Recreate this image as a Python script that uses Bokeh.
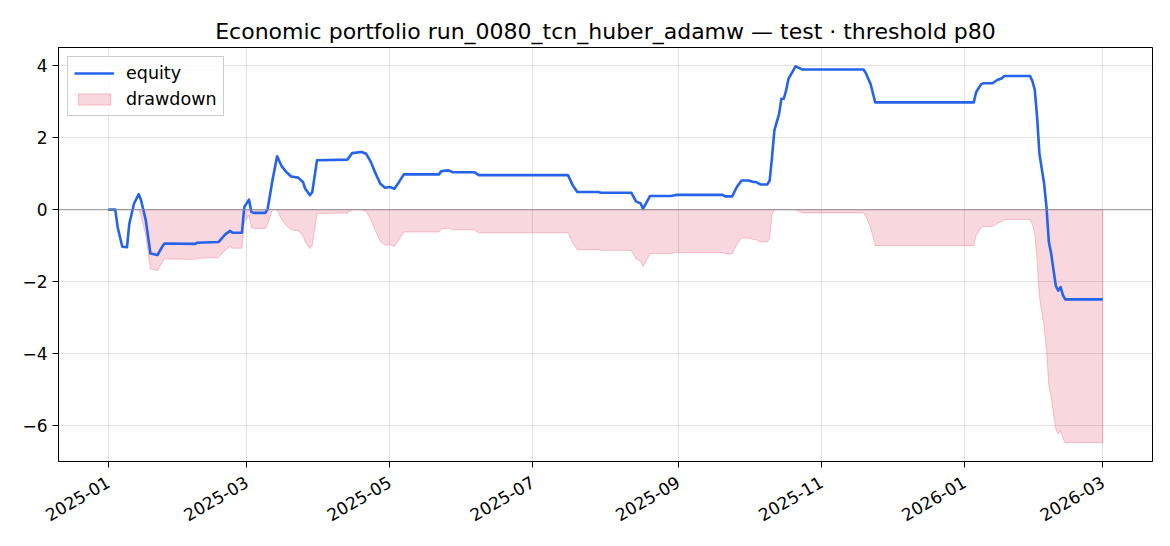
import math
import numpy as np
import pandas as pd
from bokeh.plotting import figure
from bokeh.models import (Range1d, FixedTicker, DatetimeTickFormatter, CustomJSTickFormatter,
                          Span, Legend, LegendItem)
from bokeh.embed import file_html
from bokeh.resources import INLINE

TITLE = "Economic portfolio run_0080_tcn_huber_adamw — test · threshold p80"

dates = [
    "2025-01-01", "2025-01-04", "2025-01-05", "2025-01-07", "2025-01-09", "2025-01-10",
    "2025-01-12", "2025-01-14", "2025-01-15", "2025-01-17", "2025-01-19", "2025-01-22",
    "2025-01-24", "2025-01-25", "2025-02-07", "2025-02-08", "2025-02-17", "2025-02-20",
    "2025-02-22", "2025-02-23", "2025-02-27", "2025-02-28", "2025-03-02", "2025-03-03",
    "2025-03-04", "2025-03-09", "2025-03-10", "2025-03-12", "2025-03-14", "2025-03-16",
    "2025-03-18", "2025-03-20", "2025-03-23", "2025-03-25", "2025-03-26", "2025-03-28",
    "2025-03-29", "2025-03-31", "2025-04-13", "2025-04-15", "2025-04-19", "2025-04-21",
    "2025-04-23", "2025-04-25", "2025-04-27", "2025-04-29", "2025-05-01", "2025-05-03",
    "2025-05-05", "2025-05-07", "2025-05-22", "2025-05-23", "2025-05-26", "2025-05-28",
    "2025-06-06", "2025-06-08", "2025-07-16", "2025-07-18", "2025-07-20", "2025-07-29",
    "2025-07-30", "2025-08-12", "2025-08-14", "2025-08-16", "2025-08-17", "2025-08-20",
    "2025-08-29", "2025-08-31", "2025-09-20", "2025-09-21", "2025-09-24", "2025-09-26",
    "2025-09-28", "2025-10-01", "2025-10-03", "2025-10-04", "2025-10-06", "2025-10-09",
    "2025-10-10", "2025-10-11", "2025-10-12", "2025-10-14", "2025-10-15", "2025-10-16",
    "2025-10-17", "2025-10-18", "2025-10-20", "2025-10-21", "2025-10-22", "2025-10-24",
    "2025-11-19", "2025-11-20", "2025-11-22", "2025-11-24", "2026-01-05", "2026-01-06",
    "2026-01-08", "2026-01-09", "2026-01-13", "2026-01-15", "2026-01-17", "2026-01-18",
    "2026-01-29", "2026-01-30", "2026-01-31", "2026-02-01", "2026-02-02", "2026-02-04",
    "2026-02-05", "2026-02-06", "2026-02-07", "2026-02-08", "2026-02-09", "2026-02-10",
    "2026-02-11", "2026-02-12", "2026-02-13", "2026-03-01",
]

equity = [
    0.00, 0.00, -0.48, -1.03, -1.04, -0.39,
    0.17, 0.43, 0.26, -0.29, -1.22, -1.26,
    -1.03, -0.94, -0.95, -0.92, -0.90, -0.68,
    -0.59, -0.64, -0.64, 0.07, 0.28, -0.06,
    -0.09, -0.09, 0.03, 0.81, 1.48, 1.20,
    1.04, 0.92, 0.89, 0.77, 0.58, 0.40,
    0.49, 1.37, 1.39, 1.57, 1.60, 1.55,
    1.32, 1.00, 0.72, 0.61, 0.63, 0.58,
    0.77, 0.98, 0.98, 1.07, 1.09, 1.04,
    1.04, 0.96, 0.96, 0.68, 0.49, 0.49,
    0.47, 0.47, 0.23, 0.17, 0.02, 0.38,
    0.38, 0.41, 0.41, 0.37, 0.37, 0.63,
    0.81, 0.81, 0.77, 0.77, 0.70, 0.70,
    0.81, 1.46, 2.20, 2.66, 3.08, 3.08,
    3.31, 3.63, 3.86, 3.98, 3.95, 3.89,
    3.89, 3.79, 3.49, 2.98, 2.98, 3.26,
    3.47, 3.51, 3.51, 3.60, 3.65, 3.71,
    3.71, 3.57, 3.33, 2.57, 1.55, 0.72,
    0.07, -0.89, -1.22, -1.68, -2.12, -2.25,
    -2.15, -2.37, -2.49, -2.49,
]

drawdown = [
    0.00, 0.00, 0.00, 0.00, 0.00, 0.00,
    0.00, 0.00, -0.17, -0.72, -1.65, -1.69,
    -1.46, -1.37, -1.38, -1.35, -1.33, -1.11,
    -1.02, -1.07, -1.07, -0.36, -0.15, -0.49,
    -0.52, -0.52, -0.40, 0.00, 0.00, -0.28,
    -0.44, -0.56, -0.59, -0.71, -0.90, -1.08,
    -0.99, -0.11, -0.09, 0.00, 0.00, -0.05,
    -0.28, -0.60, -0.88, -0.99, -0.97, -1.02,
    -0.83, -0.62, -0.62, -0.53, -0.51, -0.56,
    -0.56, -0.64, -0.64, -0.92, -1.11, -1.11,
    -1.13, -1.13, -1.37, -1.43, -1.58, -1.22,
    -1.22, -1.19, -1.19, -1.23, -1.23, -0.97,
    -0.79, -0.79, -0.83, -0.83, -0.90, -0.90,
    -0.79, -0.14, 0.00, 0.00, 0.00, 0.00,
    0.00, 0.00, 0.00, 0.00, -0.03, -0.09,
    -0.09, -0.19, -0.49, -1.00, -1.00, -0.72,
    -0.51, -0.47, -0.47, -0.38, -0.33, -0.27,
    -0.27, -0.41, -0.65, -1.41, -2.43, -3.26,
    -3.91, -4.87, -5.20, -5.66, -6.10, -6.23,
    -6.13, -6.35, -6.47, -6.47,
]

x_tick_dates = ["2025-01-01", "2025-03-01", "2025-05-01", "2025-07-01",
                "2025-09-01", "2025-11-01", "2026-01-01", "2026-03-01"]
y_ticks = [-6, -4, -2, 0, 2, 4]

FONT = "DejaVu Sans"

x = pd.to_datetime(dates)
eq = np.array(equity)
dd = np.array(drawdown)

# axis ranges with 5% padding (matplotlib style)
x0, x1 = x.min(), x.max()
xpad = (x1 - x0) * 0.05
ymin = min(eq.min(), dd.min())
ymax = max(eq.max(), dd.max())
ypad = (ymax - ymin) * 0.05

p = figure(width=1154, height=530, x_axis_type="datetime",
           output_backend="svg", toolbar_location=None,
           x_range=Range1d(x0 - xpad, x1 + xpad),
           y_range=Range1d(ymin - ypad, ymax + ypad),
           min_border_left=58, min_border_right=2,
           min_border_top=47, min_border_bottom=68)

p.background_fill_color = "white"
p.border_fill_color = "white"
p.outline_line_color = "black"
p.outline_line_width = 1
p.outline_line_alpha = 1

p.title.text = TITLE
p.title.align = "center"
p.title.text_font = FONT
p.title.text_font_size = "22px"
p.title.text_font_style = "normal"
p.title.text_color = "black"
p.title.standoff = 7

# drawdown area (polygon from the drawdown series down to zero)
poly_x = np.concatenate([x.values, x.values[::-1]])
poly_y = np.concatenate([dd, np.zeros_like(dd)])
dd_r = p.patch(x=poly_x, y=poly_y, fill_color="#dc143c", fill_alpha=0.17,
               line_color="#dc143c", line_alpha=0.22, line_width=1)

zero = Span(location=0, dimension="width", line_color="#8a8f99", line_alpha=0.75, line_width=1.2)
p.add_layout(zero)

eq_r = p.line(x=x, y=eq, line_color="#2563eb", line_width=2.6, line_join="round")

# axes
xt = [pd.Timestamp(d).value // 10**6 for d in x_tick_dates]
p.xaxis.ticker = FixedTicker(ticks=xt)
fmt = "%Y-%m"
p.xaxis.formatter = DatetimeTickFormatter(years=fmt, months=fmt, days=fmt, hours=fmt,
                                          minutes=fmt, seconds=fmt, milliseconds=fmt,
                                          microseconds=fmt)
p.xaxis.major_label_orientation = math.pi / 6
p.yaxis.ticker = FixedTicker(ticks=y_ticks)
p.yaxis.formatter = CustomJSTickFormatter(code="return tick < 0 ? '\u2212' + Math.abs(tick) : String(tick);")

for ax in (p.xaxis, p.yaxis):
    ax.major_tick_out = 6
    ax.major_tick_in = 0
    ax.minor_tick_out = 0
    ax.minor_tick_in = 0
    ax.major_tick_line_color = "black"
    ax.axis_line_color = "black"
    ax.major_label_text_font = FONT
    ax.major_label_text_font_size = "17px"
    ax.major_label_text_color = "black"
    ax.major_label_standoff = 5
p.xaxis.major_label_standoff = 13

p.xgrid.grid_line_color = "#b0b0b0"
p.xgrid.grid_line_alpha = 0.35
p.ygrid.grid_line_color = "#b0b0b0"
p.ygrid.grid_line_alpha = 0.35

legend = Legend(items=[LegendItem(label="equity", renderers=[eq_r]),
                       LegendItem(label="drawdown", renderers=[dd_r])],
                location="top_left", margin=9, padding=6, spacing=6,
                glyph_width=40, glyph_height=14, label_standoff=12,
                label_text_font=FONT, label_text_font_size="17.5px",
                label_text_color="black",
                border_line_color="#cccccc", border_line_alpha=1, border_line_width=1,
                background_fill_color="white", background_fill_alpha=0.8)
p.add_layout(legend)

open("out.html", "w").write(file_html(p, INLINE))
